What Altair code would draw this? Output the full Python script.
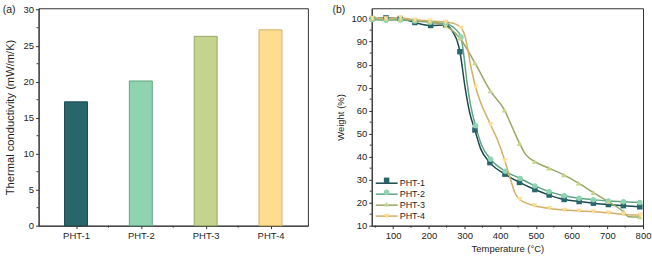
import json

import altair as alt
import pandas as pd

FONT = "Liberation Sans"
INK = "#1e1e1e"
FRAME = "#333333"

# ---------------- (a) thermal conductivity ----------------
samples = ["PHT-1", "PHT-2", "PHT-3", "PHT-4"]
conductivity = [17.2, 20.1, 26.3, 27.2]  # mW/m/K
bar_fill = ["#27676c", "#8fd3b1", "#c4d48c", "#fedc90"]
bar_edge = ["#1b4a4e", "#5fa584", "#98a866", "#d2b069"]
k_major = [0, 5, 10, 15, 20, 25, 30]
k_minor = [2.5, 7.5, 12.5, 17.5, 22.5, 27.5]
slot_minor = [1.5, 2.5, 3.5]

# ---------------- (b) TGA curves ----------------
line_colors = ["#22646a", "#88d2ae", "#bcd083", "#fed98c"]
marker_shapes = ["square", "circle", "triangle-up", "triangle-down"]
temp_major = [100, 200, 300, 400, 500, 600, 700, 800]
temp_minor = [50, 150, 250, 350, 450, 550, 650, 750]
weight_major = [10, 20, 30, 40, 50, 60, 70, 80, 90, 100]
weight_minor = [15, 25, 35, 45, 55, 65, 75, 85, 95]

# sampled points (markers)
pht1_temp = [42, 80, 120, 161, 205, 247, 287, 329, 371, 413, 454, 497, 537, 579, 621, 661, 703, 745, 791]
pht1_weight = [100.0, 100.3, 100.0, 98.3, 97.0, 97.2, 85.6, 51.6, 37.4, 32.4, 28.8, 25.7, 23.3, 21.4, 20.5, 19.8, 19.2, 18.7, 18.2]
pht2_temp = [42, 80, 121, 161, 203, 247, 290, 331, 373, 414, 456, 497, 537, 579, 621, 661, 703, 745, 791]
pht2_weight = [99.6, 99.3, 99.4, 99.0, 98.4, 97.8, 92.0, 53.4, 38.9, 33.7, 30.5, 27.3, 24.8, 23.0, 21.9, 21.3, 20.7, 20.4, 20.1]
pht3_temp = [42, 80, 121, 161, 203, 247, 287, 329, 372, 412, 454, 496, 536, 578, 619, 661, 703, 745, 791]
pht3_weight = [100.0, 100.0, 99.8, 99.2, 98.6, 96.8, 91.5, 80.8, 68.6, 60.2, 45.8, 37.9, 35.0, 32.1, 28.5, 24.4, 20.4, 16.1, 13.8]
pht4_temp = [42, 80, 121, 161, 203, 247, 291, 331, 373, 413, 455, 496, 538, 580, 621, 661, 703, 745, 793]
pht4_weight = [100.2, 100.0, 100.3, 99.5, 99.0, 98.5, 95.9, 70.3, 53.9, 38.2, 21.4, 18.7, 17.5, 16.8, 16.4, 16.1, 15.6, 14.9, 14.6]

# extra readings along the continuous curves, between markers
pht1_path_temp = [270, 279, 302, 314, 345]
pht1_path_weight = [93.5, 90.5, 69.6, 59.4, 43.5]
pht2_path_temp = [274, 298, 306, 318, 348]
pht2_path_weight = [95.5, 84.0, 73.5, 61.5, 45.0]
pht3_path_temp = [433, 470, 760]
pht3_path_weight = [53.0, 41.2, 13.9]
pht4_path_temp = [275, 302, 307, 319, 393, 428, 442, 475]
pht4_path_weight = [97.6, 92.0, 88.4, 78.2, 47.0, 30.5, 24.0, 19.7]

panel_tags = ["(a)", "(b)"]

# ---------------- layout ----------------
A_W, A_H = 270, 218
B_W, B_H = 272, 218


def tga_frame(name, temps, weights):
    return pd.DataFrame({"series": name, "temp": temps, "weight": weights})


marker_df = pd.concat([
    tga_frame("PHT-1", pht1_temp, pht1_weight),
    tga_frame("PHT-2", pht2_temp, pht2_weight),
    tga_frame("PHT-3", pht3_temp, pht3_weight),
    tga_frame("PHT-4", pht4_temp, pht4_weight),
], ignore_index=True)

path_df = pd.concat([
    tga_frame("PHT-1", pht1_temp + pht1_path_temp, pht1_weight + pht1_path_weight),
    tga_frame("PHT-2", pht2_temp + pht2_path_temp, pht2_weight + pht2_path_weight),
    tga_frame("PHT-3", pht3_temp + pht3_path_temp, pht3_weight + pht3_path_weight),
    tga_frame("PHT-4", pht4_temp + pht4_path_temp, pht4_weight + pht4_path_weight),
], ignore_index=True).sort_values(["series", "temp"])

bar_df = pd.DataFrame({
    "sample": samples,
    "slot": list(range(1, len(samples) + 1)),
    "k": conductivity,
})

common_axis = dict(
    grid=False, labelFont=FONT, titleFont=FONT, labelColor=INK, titleColor=INK,
    domainColor=FRAME, tickColor=FRAME, tickSize=3, tickWidth=1, domainWidth=1,
    labelFontSize=9.5, titleFontWeight="normal", labelFlush=False, labelOverlap=False,
)

# ---------------- panel (a) ----------------
slot_scale = alt.Scale(domain=[0.5, len(samples) + 0.5], nice=False, zero=False)
k_scale = alt.Scale(domain=[0, 30.2], nice=False)

label_lookup = json.dumps(samples)
slot_axis = alt.Axis(values=bar_df["slot"].tolist(), title=None, labelPadding=2,
                     labelExpr=f"{label_lookup}[datum.value - 1]", **common_axis)
k_axis = alt.Axis(values=k_major, title="Thermal conductivity (mW/m/K)", titleFontSize=11.2,
                  titlePadding=8, labelPadding=2, **common_axis)

bars = alt.Chart(bar_df).mark_bar(size=23, strokeWidth=1, orient="vertical").encode(
    x=alt.X("slot:Q", scale=slot_scale, axis=slot_axis),
    y=alt.Y("k:Q", scale=k_scale, axis=k_axis),
    fill=alt.Fill("sample:N", scale=alt.Scale(domain=samples, range=bar_fill), legend=None),
    stroke=alt.Stroke("sample:N", scale=alt.Scale(domain=samples, range=bar_edge), legend=None),
)

a_minor_y = alt.Chart(pd.DataFrame({"k": k_minor})).mark_rule(color=FRAME, strokeWidth=1).encode(
    y=alt.Y("k:Q", scale=k_scale, axis=k_axis), x=alt.value(-2), x2=alt.value(0))
a_minor_x = alt.Chart(pd.DataFrame({"slot": slot_minor})).mark_rule(color=FRAME, strokeWidth=1).encode(
    x=alt.X("slot:Q", scale=slot_scale, axis=slot_axis), y=alt.value(A_H), y2=alt.value(A_H + 2))
a_tag = alt.Chart(pd.DataFrame({"tag": [panel_tags[0]]})).mark_text(
    align="left", baseline="top", font=FONT, fontSize=10.5, color=INK
).encode(text="tag:N", x=alt.value(-36), y=alt.value(-3.3))

panel_a = alt.layer(bars, a_minor_y, a_minor_x, a_tag).properties(width=A_W, height=A_H)

# ---------------- panel (b) ----------------
temp_scale = alt.Scale(domain=[40, 800], nice=False, zero=False)
weight_scale = alt.Scale(domain=[10, 104.5], nice=False, zero=False)
temp_axis = alt.Axis(values=temp_major, title="Temperature (°C)", titleFontSize=9.5,
                     titlePadding=3, labelPadding=2, **common_axis)
weight_axis = alt.Axis(values=weight_major, title="Weight (%)", titleFontSize=9.5,
                       titlePadding=5, labelPadding=2, **common_axis)

line_legend = alt.Legend(
    orient="none", legendX=9.5, legendY=169.9, title=None, padding=0, rowPadding=0,
    symbolType="M-2.44,0H2.44", symbolSize=81, symbolStrokeWidth=1.5,
    labelOffset=7.5, labelFont=FONT, labelFontSize=9, labelColor=INK,
)
marker_legend = alt.Legend(
    orient="bottom-left", offset=4.1, title=None, padding=0, rowPadding=0,
    symbolSize=30, symbolStrokeWidth=0, symbolOffset=5.4,
    labelExpr="''", labelFontSize=11,
)

lines = alt.Chart(path_df).mark_line(interpolate="monotone", strokeWidth=1.5).encode(
    x=alt.X("temp:Q", scale=temp_scale, axis=temp_axis),
    y=alt.Y("weight:Q", scale=weight_scale, axis=weight_axis),
    stroke=alt.Stroke("series:N", scale=alt.Scale(domain=samples, range=line_colors), legend=line_legend),
)

points = alt.Chart(marker_df).mark_point(filled=True, size=30, opacity=1).encode(
    x=alt.X("temp:Q", scale=temp_scale, axis=temp_axis),
    y=alt.Y("weight:Q", scale=weight_scale, axis=weight_axis),
    fill=alt.Fill("series:N", scale=alt.Scale(domain=samples, range=line_colors), legend=marker_legend),
    shape=alt.Shape("series:N", scale=alt.Scale(domain=samples, range=marker_shapes), legend=marker_legend),
)

b_minor_x = alt.Chart(pd.DataFrame({"temp": temp_minor})).mark_rule(color=FRAME, strokeWidth=1).encode(
    x=alt.X("temp:Q", scale=temp_scale, axis=temp_axis), y=alt.value(B_H), y2=alt.value(B_H + 2))
b_minor_y = alt.Chart(pd.DataFrame({"weight": weight_minor})).mark_rule(color=FRAME, strokeWidth=1).encode(
    y=alt.Y("weight:Q", scale=weight_scale, axis=weight_axis), x=alt.value(-2), x2=alt.value(0))
b_tag = alt.Chart(pd.DataFrame({"tag": [panel_tags[1]]})).mark_text(
    align="left", baseline="top", font=FONT, fontSize=10.5, color=INK
).encode(text="tag:N", x=alt.value(-39.3), y=alt.value(-3.0))

panel_b = (
    alt.layer(lines, points, b_minor_x, b_minor_y, b_tag)
    .resolve_legend(stroke="independent", fill="independent", shape="independent")
    .properties(width=B_W, height=B_H)
)

chart = (
    alt.hconcat(panel_a, panel_b, spacing=23)
    .properties(padding={"left": 1.7, "top": 2.95, "right": 0, "bottom": 0})
    .configure_view(stroke=FRAME, strokeWidth=1)
)

chart.save("out.html", embed_options={"renderer": "svg", "actions": False})
